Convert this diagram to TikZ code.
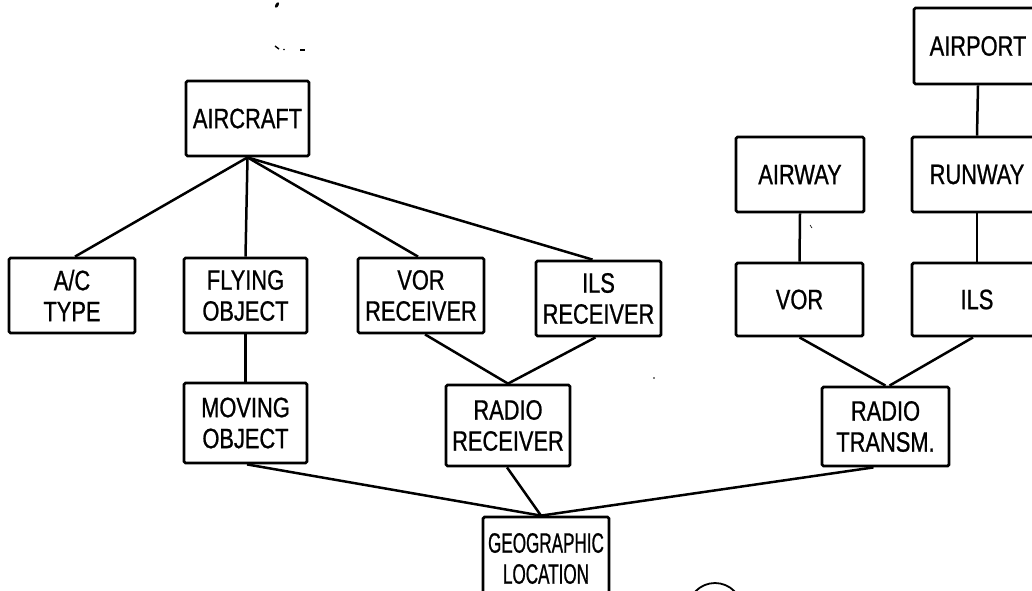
\documentclass[tikz,border=0pt]{standalone}
\usepackage{fontspec}
\setmainfont{Liberation Sans}[FakeStretch=0.78,FakeBold=0.8]
\newfontfamily\geofont{Liberation Sans}[FakeStretch=0.61,FakeBold=0.8]
\begin{document}
\begin{tikzpicture}[x=1pt,y=-1pt,
  ent/.style={draw, line width=2.8pt, rounded corners=1.5pt, inner sep=0pt,
    align=center, font=\fontsize{28}{31}\selectfont},
  link/.style={line width=2.5pt},
  noise/.style={fill=black, draw=none}]
\useasboundingbox (0,0) rectangle (1032,590);
\clip (0,0) rectangle (1032,590);
% entity boxes
\node[ent, minimum width=123pt, minimum height=75pt] (aircraft) at (247.5,118.5) {AIRCRAFT};
\node[ent, minimum width=126pt, minimum height=75pt] (actype) at (72,295.5) {A/C\\TYPE};
\node[ent, minimum width=123pt, minimum height=75pt] (flying) at (245.5,295.5) {FLYING\\OBJECT};
\node[ent, minimum width=126pt, minimum height=75pt] (vorrec) at (421,295.5) {VOR\\RECEIVER};
\node[ent, minimum width=125pt, minimum height=75pt] (ilsrec) at (598.5,298.5) {ILS\\RECEIVER};
\node[ent, minimum width=123pt, minimum height=80pt] (movobj) at (245.5,423) {MOVING\\OBJECT};
\node[ent, minimum width=124pt, minimum height=81pt] (radrec) at (508,425.5) {RADIO\\RECEIVER};
\node[ent, minimum width=126pt, minimum height=83pt, font=\geofont\fontsize{28}{31}\selectfont] (geo) at (546,558.5) {GEOGRAPHIC\\LOCATION};
\node[ent, minimum width=128pt, minimum height=75pt] (airway) at (800,174.5) {AIRWAY};
\node[ent, minimum width=130pt, minimum height=75pt] (runway) at (977,174.5) {RUNWAY};
\node[ent, minimum width=128pt, minimum height=76pt] (airport) at (978,46) {AIRPORT};
\node[ent, minimum width=127pt, minimum height=73pt] (vor) at (799.5,299.5) {VOR};
\node[ent, minimum width=130pt, minimum height=73pt] (ils) at (977,299.5) {ILS};
\node[ent, minimum width=127pt, minimum height=79pt] (radtr) at (885.5,426.5) {RADIO\\TRANSM.};
% connectors
\draw[link] (aircraft.south) -- ([xshift=3pt]actype.north);
\draw[link] (aircraft.south) -- (flying.north);
\draw[link] (aircraft.south) -- ([xshift=-3pt]vorrec.north);
\draw[link] (aircraft.south) -- ([xshift=-6pt]ilsrec.north);
\draw[link] (flying.south) -- (movobj.north);
\draw[link] ([xshift=4pt]vorrec.south) -- (radrec.north);
\draw[link] ([xshift=-3pt]ilsrec.south) -- (radrec.north);
\draw[link] (airway.south) -- (vor.north);
\draw[link] (airport.south) -- (runway.north);
\draw[link] (runway.south) -- (ils.north);
\draw[link] (vor.south) -- (radtr.north);
\draw[link] ([xshift=-4pt]ils.south) -- ([xshift=4pt]radtr.north);
\draw[link] ([xshift=1.5pt]movobj.south) -- ([xshift=-5pt]geo.north);
\draw[link] ([xshift=-1pt]radrec.south) -- ([xshift=-5pt]geo.north);
\draw[link] ([xshift=-12pt]radtr.south) -- ([xshift=-5pt]geo.north);
% scan marks
\fill[noise, rotate around={60:(277,5)}] (277,5) ellipse (3pt and 1.6pt);
\draw[line width=1.4pt] (275,46) -- (279,49);
\fill[noise] (284,49.5) circle (0.9pt);
\draw[line width=1.2pt] (300,50) -- (305,50);
\fill[noise] (654,378) circle (0.9pt);
\draw[line width=0.6pt] (810,225) -- (812,228);
\draw[line width=1.8pt] (715,610) circle (27pt);
\end{tikzpicture}
\end{document}
